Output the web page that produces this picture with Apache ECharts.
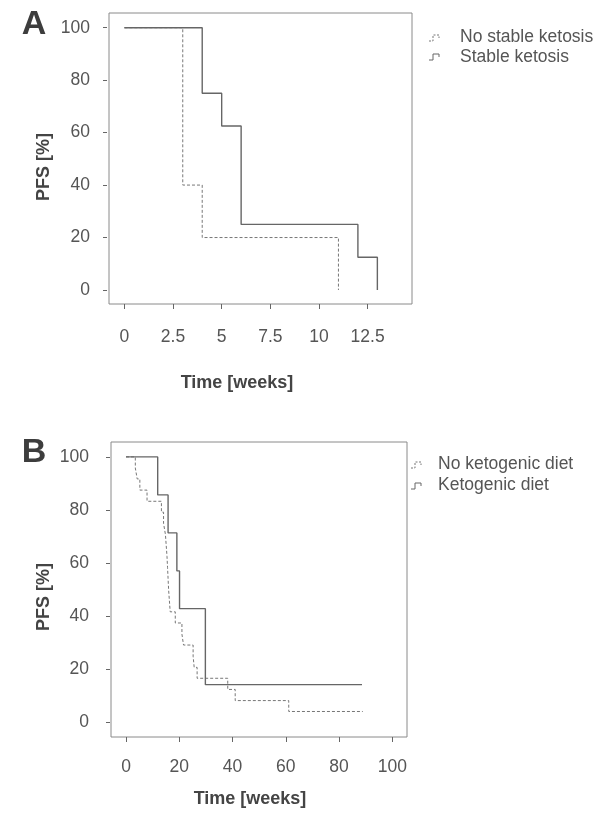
<!DOCTYPE html>
<html><head><meta charset="utf-8">
<script src="https://cdn.jsdelivr.net/npm/echarts@6/dist/echarts.min.js"></script>
<style>html,body{margin:0;padding:0;background:#fff}#c{width:602px;height:817px}</style>
</head><body><div id="c"></div>
<script>
// Panel A
const namesA = ['No stable ketosis', 'Stable ketosis'];
const noKetosisTime = [0, 3, 4, 11];
const noKetosisPFS = [100, 40, 20, 0];
const ketosisTime = [0, 4, 5, 6, 12, 13];
const ketosisPFS = [100, 75, 62.5, 25, 12.5, 0];
const xTicksA = [0, 2.5, 5, 7.5, 10, 12.5];
// Panel B
const namesB = ['No ketogenic diet', 'Ketogenic diet'];
const noDietTime = [0, 3.5, 4.2, 5.2, 7.9, 13.3, 14.1, 14.8, 15.1, 15.4, 15.6, 15.8, 16.0, 16.3, 16.6, 18.5, 21.0, 21.6, 25.2, 25.6, 26.7, 38.2, 41.0, 61.1, 88.9];
const noDietPFS = [100, 95.8, 91.7, 87.5, 83.3, 79.2, 75, 70.8, 66.7, 62.5, 58.3, 54.2, 50, 45.8, 41.7, 37.5, 33.3, 29.2, 25, 20.8, 16.7, 12.5, 8.3, 4.2, 4.2];
const dietTime = [0, 11.9, 15.8, 19.1, 20.1, 29.8, 88.6];
const dietPFS = [100, 85.7, 71.4, 57.1, 42.9, 14.3, 14.3];
const xTicksB = [0, 20, 40, 60, 80, 100];
const yTicks = [0, 20, 40, 60, 80, 100];
const panelLetters = ['A', 'B'];
const yTitle = 'PFS [%]';
const xTitle = 'Time [weeks]';

const zip = (t, v) => t.map((x, i) => [x, v[i]]);
const labelColor = '#555';
const titleColor = '#444';
const lineColor = '#666';
const dashColor = '#777';
const fam = '"Liberation Sans", Arial, sans-serif';

function xAxis(idx, min, max, ticks, margin) {
  return {
    type: 'value', gridIndex: idx, min: min, max: max,
    axisLine: { show: false, onZero: false }, splitLine: { show: false },
    axisTick: { show: true, customValues: ticks, length: 5, inside: false, lineStyle: { color: '#666', width: 1 } },
    axisLabel: { customValues: ticks, margin: margin, color: labelColor, fontSize: 17.5, fontFamily: fam }
  };
}
function yAxis(idx, min, max, offset, margin) {
  return {
    type: 'value', gridIndex: idx, min: min, max: max, offset: offset,
    axisLine: { show: false, onZero: false }, splitLine: { show: false },
    axisTick: { show: true, customValues: yTicks, length: 4, lineStyle: { color: '#666', width: 1 } },
    axisLabel: { customValues: yTicks, margin: margin, color: labelColor, fontSize: 17.5, fontFamily: fam }
  };
}
function stepSeries(name, idx, data, dashed) {
  return {
    name: name, type: 'line', step: 'end', xAxisIndex: idx, yAxisIndex: idx,
    data: data, symbol: 'none', animation: false,
    lineStyle: dashed ? { color: dashColor, width: 1, type: [3, 2] } : { color: lineColor, width: 1.4 },
    itemStyle: { color: dashed ? dashColor : lineColor }
  };
}
function txt(x, y, s, font, color, align, rot) {
  return { type: 'text', x: x, y: y, rotation: rot || 0,
    style: { text: s, font: font, fill: color, align: align || 'center', verticalAlign: 'middle' } };
}
function icon(pts, dashed) {
  return { type: 'polyline', shape: { points: pts },
    style: { stroke: dashed ? dashColor : lineColor, lineWidth: 1, fill: null, lineDash: dashed ? [2, 1.5] : null } };
}

const boldFont = 'bold 18px ' + fam;
const legFont = '17.5px ' + fam;

const chart = echarts.init(document.getElementById('c'), null, { renderer: 'canvas' });
chart.setOption({
  animation: false,
  backgroundColor: '#fff',
  grid: [
    { left: 109, top: 13, width: 303, height: 291, show: true, borderColor: '#8a8a8a', borderWidth: 1, backgroundColor: 'transparent' },
    { left: 111, top: 442, width: 296, height: 295, show: true, borderColor: '#8a8a8a', borderWidth: 1, backgroundColor: 'transparent' }
  ],
  xAxis: [xAxis(0, -0.79, 14.78, xTicksA, 24), xAxis(1, -5.63, 105.5, xTicksB, 21)],
  yAxis: [yAxis(0, -5.34, 105.6, 2, 17), yAxis(1, -5.4, 105.6, 1, 21)],
  series: [
    stepSeries(namesA[0], 0, zip(noKetosisTime, noKetosisPFS), true),
    stepSeries(namesA[1], 0, zip(ketosisTime, ketosisPFS), false),
    stepSeries(namesB[0], 1, zip(noDietTime, noDietPFS), true),
    stepSeries(namesB[1], 1, zip(dietTime, dietPFS), false)
  ],
  graphic: [
    txt(34, 25, panelLetters[0], 'bold 34px ' + fam, '#3d3d3d'),
    txt(34, 453, panelLetters[1], 'bold 34px ' + fam, '#3d3d3d'),
    txt(44, 167, yTitle, boldFont, titleColor, 'center', Math.PI / 2),
    txt(44, 597, yTitle, boldFont, titleColor, 'center', Math.PI / 2),
    txt(237, 383, xTitle, boldFont, titleColor),
    txt(250, 799, xTitle, boldFont, titleColor),
    txt(460, 37, namesA[0], legFont, labelColor, 'left'),
    txt(460, 57, namesA[1], legFont, labelColor, 'left'),
    icon([[429, 41], [433, 41], [433, 35], [439, 35], [439, 38]], true),
    icon([[429, 60], [433, 60], [433, 54], [439, 54], [439, 57]], false),
    txt(438, 464, namesB[0], legFont, labelColor, 'left'),
    txt(438, 485, namesB[1], legFont, labelColor, 'left'),
    icon([[411, 468], [415, 468], [415, 462], [421, 462], [421, 465]], true),
    icon([[411, 489], [415, 489], [415, 483], [421, 483], [421, 486]], false)
  ]
});
</script></body></html>
